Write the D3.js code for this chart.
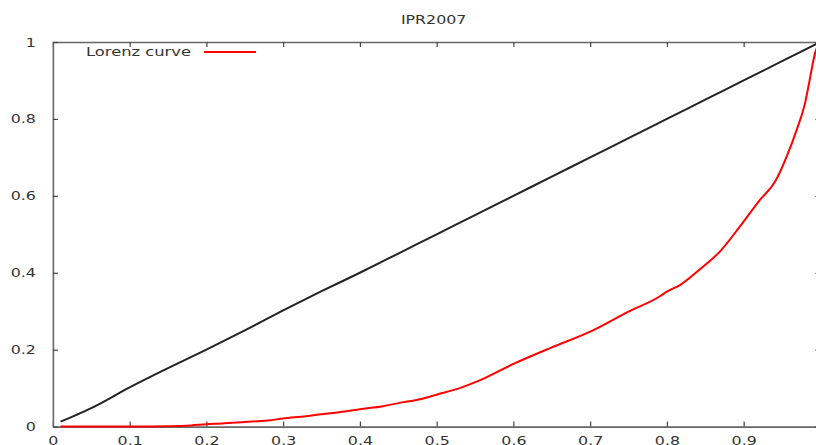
<!DOCTYPE html>
<html>
<head>
<meta charset="utf-8">
<script src="https://cdn.jsdelivr.net/npm/d3@7"></script>
<style>
  html, body { margin: 0; padding: 0; background: #fff; overflow: hidden; }
  svg { display: block; }
  text { font-family: "DejaVu Sans", sans-serif; font-size: 12px; fill: #333; }
</style>
</head>
<body>
<svg id="chart" width="816" height="445"></svg>
<script>
const title = "IPR2007";
const legendLabel = "Lorenz curve";
const xTicks = [0, 0.1, 0.2, 0.3, 0.4, 0.5, 0.6, 0.7, 0.8, 0.9, 1];
const yTicks = [0, 0.2, 0.4, 0.6, 0.8, 1];

// Equality (black) line
const equalityX = [0.01, 0.03, 0.05, 0.1, 0.15, 0.2, 0.25, 0.3, 0.35, 0.4, 0.45, 0.5, 0.55, 0.6, 0.65, 0.7, 0.75, 0.8, 0.85, 0.9, 0.95, 1];
const equalityY = [0.013, 0.03, 0.048, 0.102, 0.152, 0.2, 0.25, 0.302, 0.352, 0.4, 0.45, 0.5, 0.55, 0.6, 0.65, 0.7, 0.75, 0.8, 0.85, 0.9, 0.95, 1];

// Lorenz curve (red)
const lorenzX = [0.01, 0.05, 0.1, 0.15, 0.18, 0.2, 0.22, 0.25, 0.28, 0.3, 0.33, 0.35, 0.38, 0.4, 0.43, 0.45, 0.48, 0.5, 0.53, 0.556, 0.6, 0.65, 0.7, 0.75, 0.791, 0.8, 0.817, 0.843, 0.869, 0.895, 0.921, 0.941, 0.956, 0.969, 0.98, 0.986, 0.993, 1];
const lorenzY = [0, 0, 0, 0.001, 0.003, 0.006, 0.008, 0.012, 0.016, 0.021, 0.027, 0.032, 0.039, 0.045, 0.053, 0.061, 0.072, 0.083, 0.1, 0.12, 0.163, 0.206, 0.247, 0.299, 0.339, 0.351, 0.368, 0.409, 0.455, 0.52, 0.589, 0.637, 0.702, 0.771, 0.841, 0.901, 0.971, 1];

const svg = d3.select("#chart");
const mLeft = 52.9, mRight = 820.4, mTop = 42, mBottom = 426.6;
const sx = 1.32;

const x = d3.scaleLinear().domain([0, 1]).range([mLeft, mRight]);
const y = d3.scaleLinear().domain([0, 1]).range([mBottom, mTop]);
const fmt = d => (d === 0 || d === 1) ? String(d) : d3.format(".1f")(d);

const axisColor = "#666";

// Bottom axis
const gB = svg.append("g").attr("transform", `translate(0,${mBottom})`)
  .call(d3.axisBottom(x).tickValues(xTicks).tickFormat(fmt).tickSizeInner(-5).tickSizeOuter(0));
gB.selectAll("text").attr("y", 0).attr("dy", 0)
  .attr("transform", "translate(0,18.5) scale(" + sx + ",1)");

// Top axis (mirror ticks)
const gT = svg.append("g").attr("transform", `translate(0,${mTop})`)
  .call(d3.axisTop(x).tickValues(xTicks).tickFormat("").tickSizeInner(-5).tickSizeOuter(0));

// Left axis
const gL = svg.append("g").attr("transform", `translate(${mLeft},0)`)
  .call(d3.axisLeft(y).tickValues(yTicks).tickFormat(fmt).tickSizeInner(-5).tickSizeOuter(0));
gL.selectAll("text").attr("x", 0).attr("dy", 0)
  .attr("transform", "translate(-17,4) scale(" + sx + ",1)");

// Right axis (mirror ticks)
const gR = svg.append("g").attr("transform", `translate(${mRight},0)`)
  .call(d3.axisRight(y).tickValues(yTicks).tickFormat("").tickSizeInner(-5).tickSizeOuter(0));

[gB, gT, gL, gR].forEach(g => {
  g.select(".domain").attr("stroke", axisColor).attr("stroke-width", 1.6);
  g.selectAll(".tick line").attr("stroke", "#444").attr("stroke-width", 1.2);
  g.selectAll("text").attr("fill", "#333").style("font-family", '"DejaVu Sans", sans-serif').style("font-size", "12px");
});

// Title
svg.append("text")
  .attr("text-anchor", "middle")
  .attr("transform", `translate(${(mLeft + mRight) / 2 - 3},24) scale(${sx},1)`)
  .text(title);

const line = d3.line().x(d => x(d[0])).y(d => y(d[1])).curve(d3.curveMonotoneX);

svg.append("path")
  .datum(equalityX.map((v, i) => [v, equalityY[i]]))
  .attr("fill", "none").attr("stroke", "#222").attr("stroke-width", 2)
  .attr("stroke-linejoin", "round")
  .attr("d", line);

svg.append("path")
  .datum(lorenzX.map((v, i) => [v, lorenzY[i]]))
  .attr("fill", "none").attr("stroke", "#ff0000").attr("stroke-width", 2)
  .attr("stroke-linejoin", "round")
  .attr("d", line);

// Legend
svg.append("text")
  .attr("text-anchor", "end")
  .attr("transform", `translate(191,56) scale(1.36,1)`)
  .text(legendLabel);
svg.append("line")
  .attr("x1", 204).attr("x2", 256).attr("y1", 52).attr("y2", 52)
  .attr("stroke", "#ff0000").attr("stroke-width", 2);
</script>
</body>
</html>
